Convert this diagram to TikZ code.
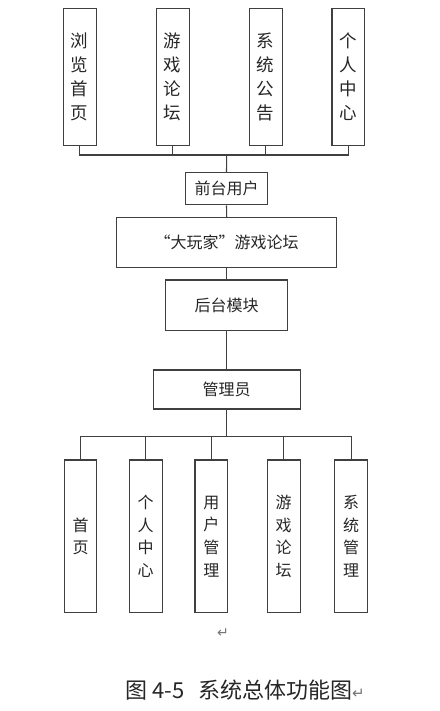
\documentclass[tikz,border=0pt]{standalone}
\usepackage{fontspec}
\newfontfamily\cjk{Noto Sans CJK SC}
\newfontfamily\symf{DejaVu Sans}
\begin{document}
\begin{tikzpicture}[x=1pt,y=-1pt,
  box/.style={draw=black!75, line width=1.1pt, inner sep=0pt, fill=white, align=center, text=black!85},
  tall/.style={box, minimum width=32.7pt, font=\cjk\fontsize{17.5}{24}\selectfont},
  tallb/.style={box, minimum width=32.7pt, minimum height=152.7pt, font=\cjk\fontsize{16}{22.7}\selectfont},
  mid/.style={box, font=\cjk\fontsize{16}{18}\selectfont},
  conn/.style={draw=black!75, line width=1.1pt}]
\fill[white] (0,0) rectangle (439,711);
\useasboundingbox (0,0) rectangle (439,711);
% top boxes
\node[tall, minimum height=137.4pt] (t1) at (79.7,77) {浏\\览\\首\\页};
\node[tall, minimum height=137.4pt] (t2) at (172.7,77) {游\\戏\\论\\坛};
\node[tall, minimum height=137.4pt] (t3) at (265.7,77) {系\\统\\公\\告};
\node[tall, minimum height=137.4pt] (t4) at (348.3,77) {个\\人\\中\\心};
% middle chain
\node[mid, minimum width=82.7pt, minimum height=32.3pt] (fu) at (226.5,188.8) {前台用户};
\node[mid, minimum width=220pt, minimum height=50pt] (big) at (226.7,242.5) {“大玩家”游戏论坛};
\node[mid, minimum width=122pt, minimum height=50.7pt] (ht) at (226.7,305.3) {后台模块};
\node[mid, minimum width=146.7pt, minimum height=39pt] (gly) at (226.7,389.5) {管理员};
% bottom boxes
\node[tallb] (b1) at (80.5,536.3) {首\\页};
\node[tallb] (b2) at (145.7,536.3) {个\\人\\中\\心};
\node[tallb] (b3) at (211.3,536.3) {用\\户\\管\\理};
\node[tallb] (b4) at (283.7,536.3) {游\\戏\\论\\坛};
\node[tallb] (b5) at (351.2,536.3) {系\\统\\管\\理};
% buses
\coordinate (bus) at (226.7,155);
\coordinate (bus2) at (226.7,436.7);
\draw[conn] (t1.south) |- (bus);
\draw[conn] (t2.south) |- (bus);
\draw[conn] (t3.south) |- (bus);
\draw[conn] (t4.south) |- (bus);
\draw[conn] (bus) -- (fu.north);
\draw[conn] (fu.south) -- (big.north);
\draw[conn] (big.south) -- (ht.north);
\draw[conn] (ht.south) -- (gly.north);
\draw[conn] (gly.south) -- (bus2);
\draw[conn] (bus2) -| (b1.north);
\draw[conn] (bus2) -| (b2.north);
\draw[conn] (bus2) -| (b3.north);
\draw[conn] (bus2) -| (b4.north);
\draw[conn] (bus2) -| (b5.north);
% marks and caption
\node[text=black!55, font=\symf\fontsize{14}{14}\selectfont] (ret) at (223,633) {↵};
\node[anchor=west, inner sep=0pt, text=black!85, font=\cjk\fontsize{22}{24}\selectfont] (cap) at (125,690) {\makebox[27pt][l]{图}\makebox[46pt][l]{4-5}系统总体功能图{\color{black!55}\symf\fontsize{15}{15}\selectfont↵}};
\end{tikzpicture}
\end{document}
